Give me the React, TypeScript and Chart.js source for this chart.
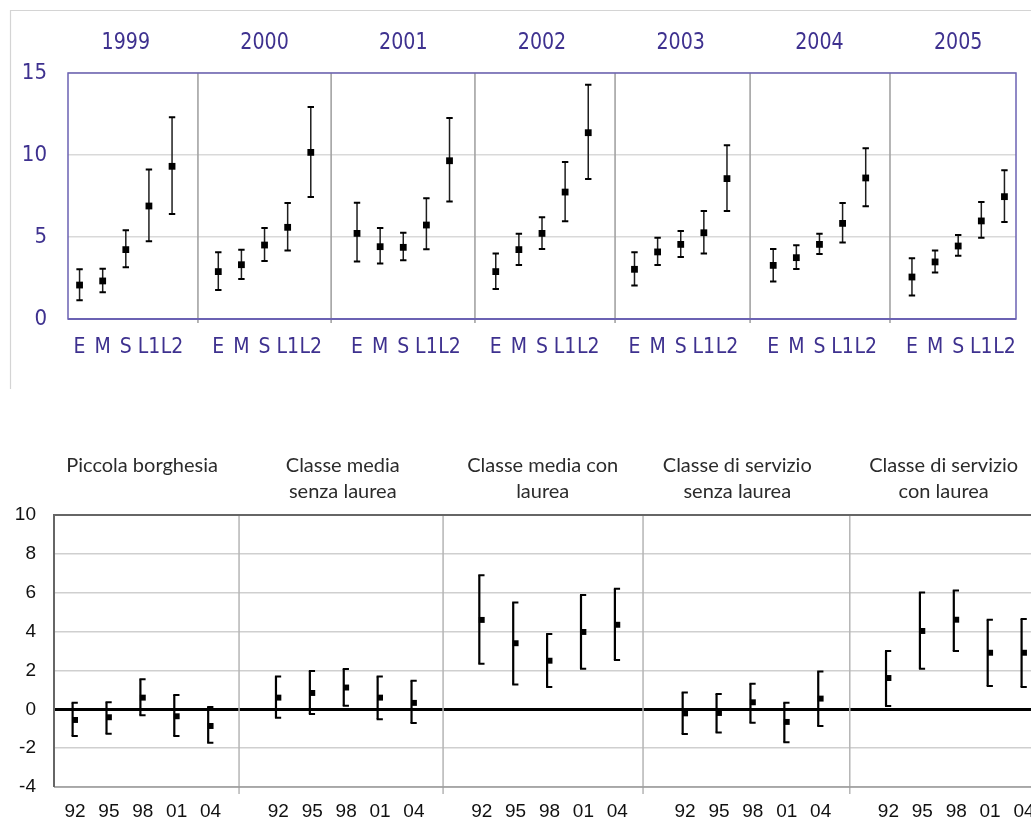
import React, { useEffect, useRef } from 'react';
import { Chart, registerables } from 'chart.js';

Chart.register(...registerables);

// ---------- TOP CHART DATA ----------
const TOP_YEARS = ['1999', '2000', '2001', '2002', '2003', '2004', '2005'];
const TOP_CATS = ['E', 'M', 'S', 'L1', 'L2'];
const TOP_MEAN = [
  [2.07, 2.32, 4.23, 6.89, 9.31],
  [2.89, 3.31, 4.51, 5.59, 10.16],
  [5.22, 4.41, 4.37, 5.73, 9.65],
  [2.89, 4.23, 5.22, 7.74, 11.36],
  [3.03, 4.09, 4.55, 5.26, 8.56],
  [3.27, 3.74, 4.55, 5.83, 8.6],
  [2.56, 3.48, 4.45, 5.98, 7.46],
];
const TOP_LOW = [
  [1.14, 1.63, 3.15, 4.74, 6.4],
  [1.77, 2.44, 3.54, 4.17, 7.44],
  [3.5, 3.39, 3.58, 4.25, 7.17],
  [1.83, 3.29, 4.27, 5.96, 8.54],
  [2.05, 3.29, 3.78, 4.0, 6.59],
  [2.28, 3.05, 3.96, 4.67, 6.87],
  [1.44, 2.83, 3.86, 4.96, 5.91],
];
const TOP_HIGH = [
  [3.03, 3.07, 5.41, 9.11, 12.3],
  [4.07, 4.23, 5.55, 7.07, 12.93],
  [7.09, 5.55, 5.26, 7.36, 12.26],
  [4.0, 5.2, 6.2, 9.57, 14.29],
  [4.07, 4.96, 5.37, 6.59, 10.59],
  [4.27, 4.49, 5.2, 7.07, 10.41],
  [3.7, 4.17, 5.12, 7.13, 9.07],
];
const TOP_Y_TICKS = [0, 5, 10, 15];
const TOP_SEPARATORS = [5.12, 10.88, 17.1, 23.16, 29.0, 35.05];

// ---------- BOTTOM CHART DATA ----------
const BOT_GROUPS = [
  ['Piccola borghesia'],
  ['Classe media', 'senza laurea'],
  ['Classe media con', 'laurea'],
  ['Classe di servizio', 'senza laurea'],
  ['Classe di servizio', 'con laurea'],
];
const BOT_GROUP_TITLE_X = [1.98, 7.9, 13.8, 19.54, 25.63];
const BOT_YEARS = ['92', '95', '98', '01', '04'];
const BOT_MEAN = [
  [-0.55, -0.41, 0.6, -0.36, -0.86],
  [0.6, 0.84, 1.12, 0.6, 0.33],
  [4.6, 3.4, 2.5, 3.98, 4.35],
  [-0.21, -0.19, 0.36, -0.65, 0.55],
  [1.61, 4.03, 4.61, 2.91, 2.91],
];
const BOT_LOW = [
  [-1.37, -1.26, -0.31, -1.37, -1.72],
  [-0.43, -0.24, 0.18, -0.51, -0.71],
  [2.35, 1.28, 1.15, 2.09, 2.54],
  [-1.27, -1.2, -0.69, -1.7, -0.86],
  [0.17, 2.09, 3.0, 1.2, 1.15],
];
const BOT_HIGH = [
  [0.34, 0.36, 1.54, 0.74, 0.12],
  [1.69, 1.97, 2.07, 1.69, 1.47],
  [6.9, 5.5, 3.87, 5.88, 6.2],
  [0.87, 0.79, 1.32, 0.34, 1.94],
  [3.0, 6.01, 6.12, 4.61, 4.65],
];
const BOT_SEPARATORS = [4.84, 10.86, 16.76, 22.86];

const SLOTS = 6; // 5 points + one gap per group

const TOP_PURPLE = '#3e318f';
const TOP_FRAME = '#6b62b3';
const TOP_FONT = '"DejaVu Sans Condensed", "DejaVu Sans", sans-serif';

function buildPoints(mean: number[][]) {
  const pts: { x: number; y: number }[] = [];
  mean.forEach((row, g) => row.forEach((v, c) => pts.push({ x: g * SLOTS + c, y: v })));
  return pts;
}

function tickPositions(groups: number, perGroup: number) {
  const p: number[] = [];
  for (let g = 0; g < groups; g++) for (let c = 0; c < perGroup; c++) p.push(g * SLOTS + c);
  return p;
}

const topPlugin = {
  id: 'topDecor',
  beforeDatasetsDraw(chart: any) {
    const { ctx, chartArea, scales } = chart;
    const x = scales.x, y = scales.y;
    ctx.save();
    ctx.strokeStyle = '#a3a3a3';
    ctx.lineWidth = 1.6;
    TOP_SEPARATORS.forEach((s) => {
      const px = x.getPixelForValue(s);
      ctx.beginPath();
      ctx.moveTo(px, chartArea.top);
      ctx.lineTo(px, chartArea.bottom + 4);
      ctx.stroke();
    });
    TOP_MEAN.forEach((row, g) =>
      row.forEach((_, c) => {
        const px = x.getPixelForValue(g * SLOTS + c);
        const yl = y.getPixelForValue(TOP_LOW[g][c]);
        const yh = y.getPixelForValue(TOP_HIGH[g][c]);
        ctx.strokeStyle = '#1e1e1e';
        ctx.lineWidth = 1.5;
        ctx.beginPath();
        ctx.moveTo(px, yl);
        ctx.lineTo(px, yh);
        ctx.stroke();
        ctx.strokeStyle = '#000';
        ctx.lineWidth = 2;
        ctx.beginPath();
        ctx.moveTo(px - 3.2, yl);
        ctx.lineTo(px + 3.2, yl);
        ctx.moveTo(px - 3.2, yh);
        ctx.lineTo(px + 3.2, yh);
        ctx.stroke();
      })
    );
    ctx.restore();
  },
  afterDraw(chart: any) {
    const { ctx, chartArea, scales } = chart;
    const x = scales.x;
    ctx.save();
    ctx.strokeStyle = '#d4d4d4';
    ctx.lineWidth = 1.2;
    ctx.beginPath();
    ctx.moveTo(10.5, 389);
    ctx.lineTo(10.5, 10.5);
    ctx.lineTo(chart.width, 10.5);
    ctx.stroke();
    ctx.strokeStyle = TOP_FRAME;
    ctx.lineWidth = 1.5;
    ctx.strokeRect(chartArea.left, chartArea.top, chartArea.right - chartArea.left, chartArea.bottom - chartArea.top);
    ctx.lineWidth = 2;
    ctx.beginPath();
    ctx.moveTo(chartArea.left, chartArea.bottom);
    ctx.lineTo(chartArea.right, chartArea.bottom);
    ctx.stroke();
    ctx.fillStyle = TOP_PURPLE;
    ctx.font = `23px ${TOP_FONT}`;
    ctx.textAlign = 'center';
    ctx.textBaseline = 'middle';
    TOP_YEARS.forEach((yr, g) => {
      const px = x.getPixelForValue(g * SLOTS + 2);
      ctx.save();
      ctx.translate(px, 43);
      ctx.scale(0.92, 1);
      ctx.fillText(yr, 0, 0);
      ctx.restore();
    });
    ctx.restore();
  },
};

const botPlugin = {
  id: 'botDecor',
  beforeDatasetsDraw(chart: any) {
    const { ctx, chartArea, scales } = chart;
    const x = scales.x, y = scales.y;
    ctx.save();
    ctx.strokeStyle = '#b5b5b5';
    ctx.lineWidth = 1.5;
    BOT_SEPARATORS.forEach((s) => {
      const px = x.getPixelForValue(s);
      ctx.beginPath();
      ctx.moveTo(px, chartArea.top);
      ctx.lineTo(px, chartArea.bottom + 7);
      ctx.stroke();
    });
    ctx.strokeStyle = '#000';
    BOT_MEAN.forEach((row, g) =>
      row.forEach((_, c) => {
        const px = x.getPixelForValue(g * SLOTS + c);
        const yl = y.getPixelForValue(BOT_LOW[g][c]);
        const yh = y.getPixelForValue(BOT_HIGH[g][c]);
        const lx = px - 2.4;
        ctx.lineWidth = 2.2;
        ctx.beginPath();
        ctx.moveTo(lx, yl);
        ctx.lineTo(lx, yh);
        ctx.stroke();
        ctx.lineWidth = 2;
        ctx.beginPath();
        ctx.moveTo(lx - 1, yl);
        ctx.lineTo(px + 2.8, yl);
        ctx.moveTo(lx - 1, yh);
        ctx.lineTo(px + 2.8, yh);
        ctx.stroke();
      })
    );
    ctx.restore();
  },
  afterDraw(chart: any) {
    const { ctx, chartArea, scales } = chart;
    const x = scales.x;
    ctx.save();
    ctx.strokeStyle = '#9a9a9a';
    ctx.lineWidth = 1.5;
    ctx.beginPath();
    ctx.moveTo(chartArea.left, chartArea.bottom);
    ctx.lineTo(chartArea.right, chartArea.bottom);
    ctx.stroke();
    ctx.strokeStyle = '#666';
    ctx.lineWidth = 2;
    ctx.beginPath();
    ctx.moveTo(chartArea.left, chartArea.bottom);
    ctx.lineTo(chartArea.left, chartArea.top);
    ctx.lineTo(chartArea.right, chartArea.top);
    ctx.stroke();
    ctx.fillStyle = '#2b2b2b';
    ctx.font = '20px Lato, "Open Sans", sans-serif';
    ctx.textAlign = 'center';
    ctx.textBaseline = 'middle';
    BOT_GROUPS.forEach((lines, g) => {
      const px = x.getPixelForValue(BOT_GROUP_TITLE_X[g]);
      lines.forEach((t, i) => ctx.fillText(t, px, 26 + i * 26));
    });
    ctx.restore();
  },
};

function TopChart() {
  const ref = useRef<HTMLCanvasElement | null>(null);
  useEffect(() => {
    if (!ref.current) return;
    const positions = tickPositions(TOP_YEARS.length, TOP_CATS.length);
    const labels = positions.map((_, i) => TOP_CATS[i % TOP_CATS.length]);
    const chart = new Chart(ref.current, {
      type: 'scatter',
      data: {
        datasets: [
          {
            data: buildPoints(TOP_MEAN),
            pointStyle: 'rect',
            pointRadius: 4.8,
            backgroundColor: '#000',
            borderWidth: 0,
          },
        ],
      },
      options: {
        responsive: false,
        animation: false,
        events: [],
        layout: { padding: { left: 0, top: 73, right: 15, bottom: 0 } },
        plugins: { legend: { display: false }, tooltip: { enabled: false } },
        scales: {
          x: {
            type: 'linear',
            min: -0.5,
            max: 40.5,
            grid: { display: false },
            border: { display: false },
            afterBuildTicks: (s: any) => {
              s.ticks = positions.map((v) => ({ value: v }));
            },
            afterFit: (s: any) => {
              s.height = 81;
            },
            ticks: {
              autoSkip: false,
              maxRotation: 0,
              padding: 8,
              color: TOP_PURPLE,
              font: { size: 21, family: TOP_FONT },
              callback: (_v: any, i: number) => labels[i],
            },
          },
          y: {
            min: 0,
            max: 15,
            afterBuildTicks: (s: any) => {
              s.ticks = TOP_Y_TICKS.map((v) => ({ value: v }));
            },
            afterFit: (s: any) => {
              s.width = 68;
            },
            grid: { color: '#d9d9d9', lineWidth: 1.5, drawTicks: false },
            border: { display: false },
            ticks: {
              padding: 21,
              color: TOP_PURPLE,
              font: { size: 22, family: TOP_FONT },
              callback: (v: any) => String(v),
            },
          },
        },
      },
      plugins: [topPlugin],
    } as any);
    return () => chart.destroy();
  }, []);
  return (
    <canvas
      ref={ref}
      width={1031}
      height={400}
      style={{ position: 'absolute', left: 0, top: 0, width: 1031, height: 400 }}
    />
  );
}

function BottomChart() {
  const ref = useRef<HTMLCanvasElement | null>(null);
  useEffect(() => {
    if (!ref.current) return;
    const positions = tickPositions(BOT_GROUPS.length, BOT_YEARS.length);
    const labels = positions.map((_, i) => BOT_YEARS[i % BOT_YEARS.length]);
    const chart = new Chart(ref.current, {
      type: 'scatter',
      data: {
        datasets: [
          {
            data: buildPoints(BOT_MEAN),
            pointStyle: 'rect',
            pointRadius: 4.2,
            backgroundColor: '#000',
            borderWidth: 0,
          },
        ],
      },
      options: {
        responsive: false,
        animation: false,
        events: [],
        layout: { padding: { left: 0, top: 75, right: 15, bottom: 0 } },
        plugins: { legend: { display: false }, tooltip: { enabled: false } },
        scales: {
          x: {
            type: 'linear',
            min: -0.62,
            max: 28.62,
            grid: { display: false },
            border: { display: false },
            afterBuildTicks: (s: any) => {
              s.ticks = positions.map((v) => ({ value: v }));
            },
            afterFit: (s: any) => {
              s.height = 33;
            },
            ticks: {
              autoSkip: false,
              maxRotation: 0,
              padding: 5,
              color: '#111',
              font: { size: 19, family: '"Liberation Sans", Arial, sans-serif' },
              callback: (_v: any, i: number) => labels[i],
            },
          },
          y: {
            min: -4,
            max: 10,
            ticks: {
              stepSize: 2,
              padding: 18,
              color: '#111',
              font: { size: 19, family: '"Liberation Sans", Arial, sans-serif' },
              callback: (v: any) => String(v),
            },
            afterFit: (s: any) => {
              s.width = 54;
            },
            grid: {
              drawTicks: false,
              color: (c: any) => (c.tick && c.tick.value === 0 ? '#000' : '#cfcfcf'),
              lineWidth: (c: any) => (c.tick && c.tick.value === 0 ? 3 : 1.5),
            },
            border: { display: false },
          },
        },
      },
      plugins: [botPlugin],
    } as any);
    return () => chart.destroy();
  }, []);
  return (
    <canvas
      ref={ref}
      width={1060}
      height={380}
      style={{ position: 'absolute', left: 0, top: 440, width: 1060, height: 380 }}
    />
  );
}

export default function App() {
  return (
    <div
      style={{
        position: 'absolute',
        left: 0,
        top: 0,
        width: 1031,
        height: 820,
        overflow: 'hidden',
        background: '#fff',
      }}
    >
      <TopChart />
      <BottomChart />
    </div>
  );
}
